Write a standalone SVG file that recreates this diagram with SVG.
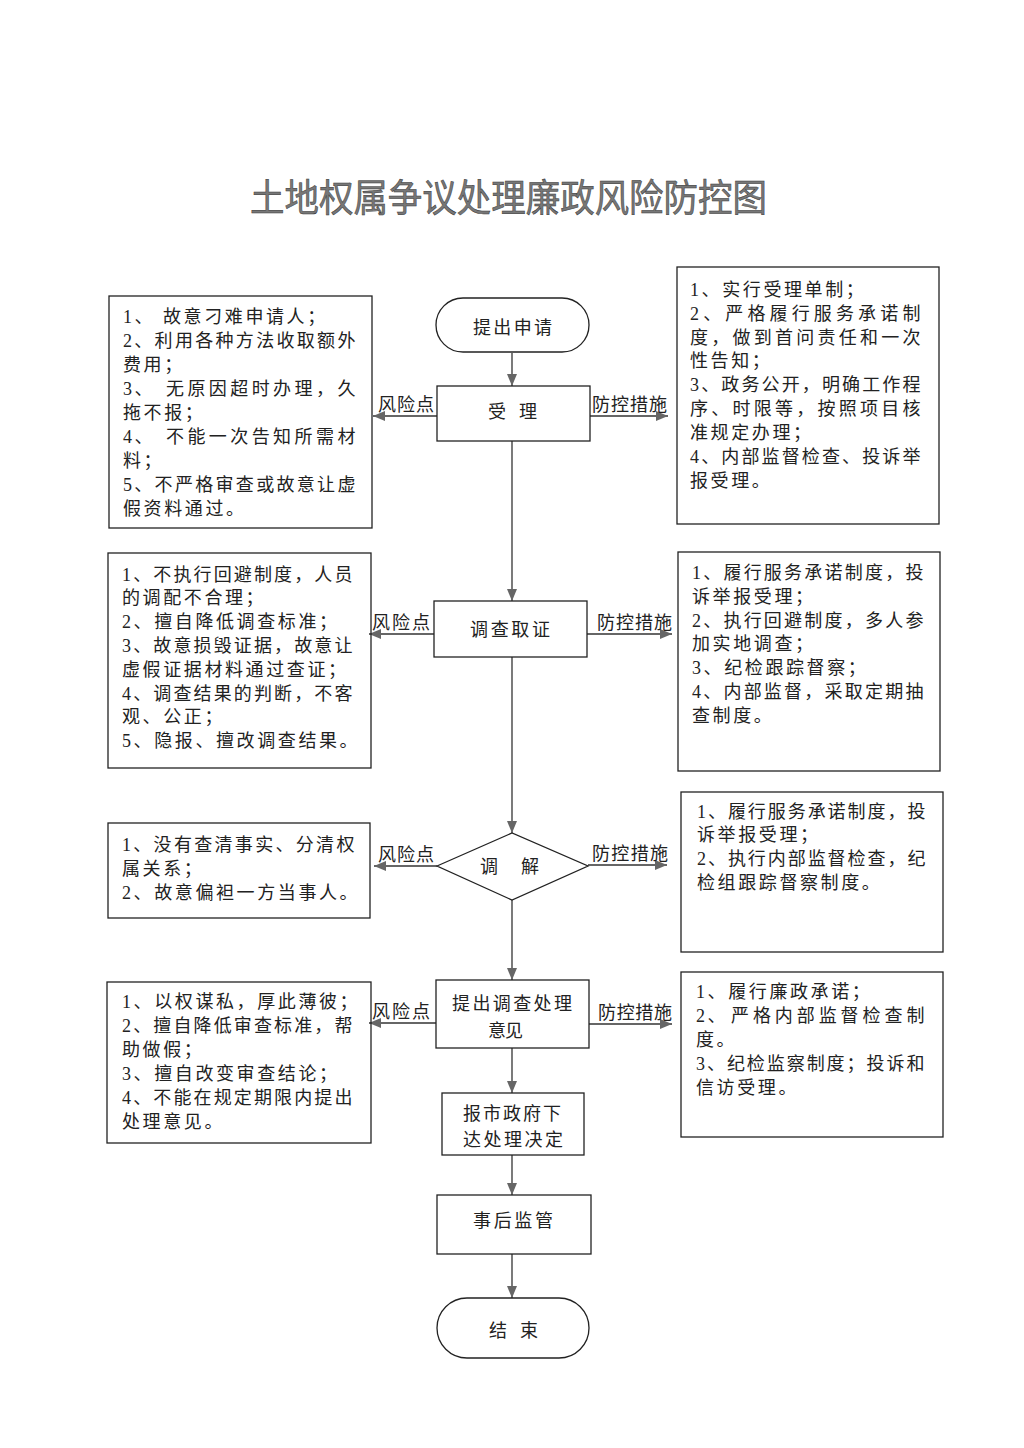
<svg xmlns="http://www.w3.org/2000/svg" width="1024" height="1448" viewBox="0 0 1024 1448">
<style>
.bg{fill:#fff}
.box{fill:none;stroke:#222;stroke-width:1.3}
.t{font-family:"Liberation Serif","Noto Sans CJK SC",serif;font-size:18px;fill:#222;letter-spacing:2.6px}
.c{font-family:"Liberation Serif","Noto Sans CJK SC",serif;font-size:18px;fill:#222}
.lb{font-family:"Noto Sans CJK SC",sans-serif;font-size:18px;fill:#222}
.ttl{font-family:"Noto Sans CJK SC",sans-serif;font-size:38px;fill:#777;stroke:#333;stroke-width:0.5}
.ln{fill:none;stroke:#333;stroke-width:1.3;marker-end:url(#ah)}
</style>
<defs>
<marker id="ah" markerUnits="userSpaceOnUse" markerWidth="12" markerHeight="10" refX="12" refY="5" orient="auto">
<path d="M0,0 L12,5 L0,10 z" fill="#666"/>
</marker>
</defs>
<rect class="bg" x="0" y="0" width="1024" height="1448"/>
<text class="ttl" x="250" y="211" textLength="517" lengthAdjust="spacingAndGlyphs">土地权属争议处理廉政风险防控图</text>

<g id="connectors">
<line class="ln" x1="512" y1="353" x2="512" y2="386"/>
<line class="ln" x1="512" y1="441" x2="512" y2="601"/>
<line class="ln" x1="512" y1="657" x2="512" y2="833"/>
<line class="ln" x1="512" y1="900" x2="512" y2="980"/>
<line class="ln" x1="512" y1="1048" x2="512" y2="1093"/>
<line class="ln" x1="512" y1="1155" x2="512" y2="1195"/>
<line class="ln" x1="512" y1="1254" x2="512" y2="1298"/>
<line class="ln" x1="437" y1="416" x2="373" y2="416"/>
<line class="ln" x1="590" y1="416" x2="668" y2="416"/>
<line class="ln" x1="434" y1="634" x2="369" y2="634"/>
<line class="ln" x1="587" y1="634" x2="672" y2="634"/>
<line class="ln" x1="437" y1="866" x2="374" y2="866"/>
<line class="ln" x1="588" y1="865" x2="667" y2="865"/>
<line class="ln" x1="436" y1="1023" x2="369" y2="1023"/>
<line class="ln" x1="589" y1="1024" x2="672" y2="1024"/>
<text class="lb" x="378" y="411" textLength="56">风险点</text>
<text class="lb" x="592" y="411" textLength="75">防控措施</text>
<text class="lb" x="372" y="629" textLength="58">风险点</text>
<text class="lb" x="597" y="629" textLength="75">防控措施</text>
<text class="lb" x="378" y="861" textLength="56">风险点</text>
<text class="lb" x="592" y="860" textLength="76">防控措施</text>
<text class="lb" x="372" y="1018" textLength="58">风险点</text>
<text class="lb" x="598" y="1019" textLength="74">防控措施</text>
</g>

<g id="start">
<rect class="box" x="436" y="298" width="153" height="54" rx="27" ry="27"/>
<text class="c" x="473" y="334" textLength="79">提出申请</text>
</g>
<g id="accept">
<rect class="box" x="437" y="386" width="153" height="55"/>
<text class="c" x="488" y="418" textLength="49">受 理</text>
</g>
<g id="investigate">
<rect class="box" x="434" y="601" width="153" height="56"/>
<text class="c" x="470" y="636" textLength="80">调查取证</text>
</g>
<g id="mediate">
<polygon class="box" points="437,866 512,833 588,866 512,900"/>
<text class="c" x="480" y="873" textLength="59">调 解</text>
</g>
<g id="opinion">
<rect class="box" x="436" y="980" width="153" height="68"/>
<text class="c" x="452" y="1010" textLength="120">提出调查处理</text>
<text class="c" x="488" y="1037" textLength="35">意见</text>
</g>
<g id="report">
<rect class="box" x="442" y="1093" width="142" height="62"/>
<text class="c" x="463" y="1120" textLength="98">报市政府下</text>
<text class="c" x="463" y="1146" textLength="100">达处理决定</text>
</g>
<g id="supervise">
<rect class="box" x="437" y="1195" width="154" height="59"/>
<text class="c" x="473" y="1227" textLength="80">事后监管</text>
</g>
<g id="end">
<rect class="box" x="437" y="1298" width="152" height="60" rx="30" ry="30"/>
<text class="c" x="489" y="1337" textLength="49">结 束</text>
</g>

<g id="risk1">
<rect class="box" x="109" y="296" width="263" height="232"/>
<text class="t" x="123" y="323">1、</text>
<text class="t" x="163" y="323">故意刁难申请人；</text>
<text class="t" x="123" y="347" textLength="235">2、利用各种方法收取额外</text>
<text class="t" x="123" y="371">费用；</text>
<text class="t" x="123" y="395">3、</text>
<text class="t" x="166" y="395" textLength="192">无原因超时办理，久</text>
<text class="t" x="123" y="419">拖不报；</text>
<text class="t" x="123" y="443">4、</text>
<text class="t" x="166" y="443" textLength="192">不能一次告知所需材</text>
<text class="t" x="123" y="467">料；</text>
<text class="t" x="123" y="491" textLength="235">5、不严格审查或故意让虚</text>
<text class="t" x="123" y="515">假资料通过。</text>
</g>
<g id="measure1">
<rect class="box" x="677" y="267" width="262" height="257"/>
<text class="t" x="690" y="296">1、实行受理单制；</text>
<text class="t" x="690" y="320" textLength="233">2、严格履行服务承诺制</text>
<text class="t" x="690" y="344" textLength="233">度，做到首问责任和一次</text>
<text class="t" x="690" y="367">性告知；</text>
<text class="t" x="690" y="391" textLength="233">3、政务公开，明确工作程</text>
<text class="t" x="690" y="415" textLength="233">序、时限等，按照项目核</text>
<text class="t" x="690" y="439">准规定办理；</text>
<text class="t" x="690" y="463" textLength="233">4、内部监督检查、投诉举</text>
<text class="t" x="690" y="487">报受理。</text>
</g>
<g id="risk2">
<rect class="box" x="108" y="553" width="263" height="215"/>
<text class="t" x="122" y="581" textLength="233">1、不执行回避制度，人员</text>
<text class="t" x="122" y="604">的调配不合理；</text>
<text class="t" x="122" y="628">2、擅自降低调查标准；</text>
<text class="t" x="122" y="652" textLength="233">3、故意损毁证据，故意让</text>
<text class="t" x="122" y="676">虚假证据材料通过查证；</text>
<text class="t" x="122" y="700" textLength="233">4、调查结果的判断，不客</text>
<text class="t" x="122" y="723">观、公正；</text>
<text class="t" x="122" y="747">5、隐报、擅改调查结果。</text>
</g>
<g id="measure2">
<rect class="box" x="678" y="552" width="262" height="219"/>
<text class="t" x="692" y="579" textLength="234">1、履行服务承诺制度，投</text>
<text class="t" x="692" y="603">诉举报受理；</text>
<text class="t" x="692" y="627" textLength="234">2、执行回避制度，多人参</text>
<text class="t" x="692" y="650">加实地调查；</text>
<text class="t" x="692" y="674">3、纪检跟踪督察；</text>
<text class="t" x="692" y="698" textLength="234">4、内部监督，采取定期抽</text>
<text class="t" x="692" y="722">查制度。</text>
</g>
<g id="risk3">
<rect class="box" x="108" y="823" width="262" height="95"/>
<text class="t" x="122" y="851" textLength="235">1、没有查清事实、分清权</text>
<text class="t" x="122" y="875">属关系；</text>
<text class="t" x="122" y="899">2、故意偏袒一方当事人。</text>
</g>
<g id="measure3">
<rect class="box" x="681" y="792" width="262" height="160"/>
<text class="t" x="697" y="818" textLength="231">1、履行服务承诺制度，投</text>
<text class="t" x="697" y="841">诉举报受理；</text>
<text class="t" x="697" y="865" textLength="231">2、执行内部监督检查，纪</text>
<text class="t" x="697" y="889">检组跟踪督察制度。</text>
</g>
<g id="risk4">
<rect class="box" x="107" y="982" width="264" height="161"/>
<text class="t" x="122" y="1008">1、以权谋私，厚此薄彼；</text>
<text class="t" x="122" y="1032" textLength="233">2、擅自降低审查标准，帮</text>
<text class="t" x="122" y="1056">助做假；</text>
<text class="t" x="122" y="1080">3、擅自改变审查结论；</text>
<text class="t" x="122" y="1104" textLength="233">4、不能在规定期限内提出</text>
<text class="t" x="122" y="1128">处理意见。</text>
</g>
<g id="measure4">
<rect class="box" x="681" y="972" width="262" height="165"/>
<text class="t" x="696" y="998">1、履行廉政承诺；</text>
<text class="t" x="696" y="1022">2、</text>
<text class="t" x="731" y="1022" textLength="196">严格内部监督检查制</text>
<text class="t" x="696" y="1046">度。</text>
<text class="t" x="696" y="1070" textLength="231">3、纪检监察制度；投诉和</text>
<text class="t" x="696" y="1094">信访受理。</text>
</g>
</svg>
